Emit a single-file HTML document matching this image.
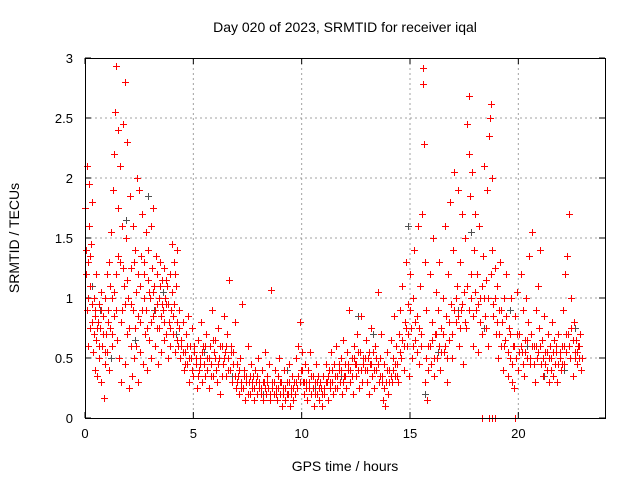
<!DOCTYPE html>
<html><head><meta charset="utf-8"><style>
body{margin:0;background:#fff;}
svg{display:block;font-family:"Liberation Sans",sans-serif;}
</style></head><body>
<svg id="chart" width="640" height="480">
<rect width="640" height="480" fill="#fff"/>
</svg>
<script>
const xTicks=[0,5,10,15,20];
const yTicks=[0,0.5,1,1.5,2,2.5,3];
const yTickLabels=["0","0.5","1","1.5","2","2.5","3"];
const redSeries=[[0.02,1.75],[0.05,1.4],[0.08,0.9],[0.1,2.1],[0.12,1.3],[0.15,0.6],[0.18,1.6],[0.2,1.95],[0.22,1.1],[0.25,0.75],[0.28,1.45],[0.3,1.8],[0.33,0.8],[0.36,0.55],[0.4,1.0],[0.42,0.7],[0.45,0.4],[0.48,0.9],[0.5,1.2],[0.53,0.65],[0.56,0.35],[0.6,0.8],[0.63,0.95],[0.66,0.5],[0.7,0.75],[0.73,1.05],[0.76,0.3],[0.8,0.6],[0.83,0.85],[0.86,0.17],[0.9,0.45],[0.93,1.0],[0.96,0.7],[1.0,1.2],[1.03,0.55],[1.06,0.9],[1.1,1.3],[1.13,0.4],[1.16,0.75],[1.2,1.55],[1.23,1.0],[1.26,0.6],[1.3,1.9],[1.33,0.85],[1.36,2.2],[1.4,2.55],[1.42,1.2],[1.45,2.93],[1.48,0.65],[1.5,2.4],[1.53,1.75],[1.56,0.5],[1.6,2.1],[1.63,1.3],[1.66,0.3],[1.7,1.6],[1.73,0.9],[1.76,2.45],[1.8,1.1],[1.83,0.45],[1.86,2.8],[1.9,1.5],[1.93,0.7],[1.96,2.3],[2.0,1.0],[2.03,0.25],[2.06,1.85],[2.1,0.6],[2.13,1.25],[2.16,0.35],[2.2,1.6],[2.23,0.9],[2.26,0.5],[2.3,1.4],[2.33,0.75],[2.36,1.05],[2.4,2.0],[2.43,0.3],[2.46,1.2],[2.5,1.9],[2.53,0.8],[2.56,0.55],[2.6,1.35],[2.63,1.7],[2.66,0.45],[2.7,1.0],[2.73,1.3],[2.76,0.7],[2.8,1.55],[2.83,0.9],[2.86,0.4],[2.9,1.15],[2.93,1.4],[2.96,0.65],[3.0,1.0],[3.03,1.6],[3.06,0.5],[3.1,1.25],[3.13,0.85],[3.16,1.75],[3.2,1.1],[3.23,0.6],[3.26,1.35],[3.3,0.95],[3.33,1.2],[3.36,0.45],[3.4,1.0],[3.43,0.75],[3.46,1.3],[3.5,0.85],[3.53,0.55],[3.56,1.15],[3.6,0.9],[3.63,0.65],[3.66,1.25],[3.7,1.0],[3.73,0.7],[3.76,0.95],[3.8,1.1],[3.83,0.5],[3.86,0.8],[3.9,1.2],[3.93,0.6],[3.96,0.9],[4.0,1.45],[4.03,1.05],[4.06,0.7],[4.1,1.3],[4.13,0.95],[4.16,0.55],[4.2,1.1],[4.23,0.8],[4.26,1.4],[4.3,0.6],[4.35,0.9],[4.4,0.5],[4.45,0.65],[4.5,0.8],[4.55,0.4],[4.6,0.55],[4.65,0.7],[4.7,0.45],[4.75,0.85],[4.8,0.3],[4.85,0.6],[4.9,0.5],[4.95,0.75],[5.0,0.35],[5.05,0.55],[5.1,0.45],[5.15,0.25],[5.2,0.65],[5.25,0.4],[5.3,0.5],[5.35,0.8],[5.4,0.3],[5.45,0.6],[5.5,0.45],[5.55,0.35],[5.6,0.7],[5.65,0.5],[5.7,0.25],[5.75,0.6],[5.8,0.45],[5.85,0.9],[5.9,0.35],[5.95,0.55],[6.0,0.65],[6.05,0.4],[6.1,0.3],[6.15,0.75],[6.2,0.5],[6.25,0.2],[6.3,0.6],[6.35,0.45],[6.4,0.85],[6.45,0.55],[6.5,0.35],[6.55,0.7],[6.6,0.5],[6.65,1.15],[6.7,0.4],[6.75,0.6],[6.8,0.3],[6.85,0.55],[6.9,0.8],[6.95,0.25],[7.0,0.45],[7.05,0.35],[7.1,0.2],[7.15,0.5],[7.2,0.3],[7.25,0.95],[7.3,0.25],[7.35,0.4],[7.4,0.15],[7.45,0.35],[7.5,0.6],[7.55,0.3],[7.6,0.2],[7.65,0.45],[7.7,0.25],[7.75,0.35],[7.8,0.15],[7.85,0.4],[7.9,0.3],[7.95,0.2],[8.0,0.5],[8.05,0.3],[8.1,0.25],[8.15,0.4],[8.2,0.15],[8.25,0.3],[8.3,0.55],[8.35,0.2],[8.4,0.35],[8.45,0.25],[8.5,0.45],[8.55,0.15],[8.6,1.07],[8.65,0.3],[8.7,0.2],[8.75,0.4],[8.8,0.25],[8.85,0.15],[8.9,0.35],[8.95,0.5],[9.0,0.2],[9.05,0.3],[9.1,0.1],[9.15,0.25],[9.2,0.4],[9.25,0.15],[9.3,0.3],[9.35,0.2],[9.4,0.45],[9.45,0.1],[9.5,0.25],[9.55,0.35],[9.6,0.15],[9.65,0.3],[9.7,0.2],[9.75,0.5],[9.8,0.25],[9.85,0.6],[9.9,0.8],[9.95,0.4],[10.0,0.55],[10.05,0.3],[10.1,0.2],[10.15,0.45],[10.2,0.3],[10.25,0.15],[10.3,0.4],[10.35,0.25],[10.4,0.55],[10.45,0.2],[10.5,0.35],[10.55,0.1],[10.6,0.3],[10.65,0.45],[10.7,0.2],[10.75,0.35],[10.8,0.15],[10.85,0.3],[10.9,0.25],[10.95,0.1],[11.0,0.35],[11.05,0.2],[11.1,0.45],[11.15,0.3],[11.2,0.15],[11.25,0.4],[11.3,0.25],[11.35,0.55],[11.4,0.3],[11.45,0.2],[11.5,0.45],[11.55,0.35],[11.6,0.6],[11.65,0.25],[11.7,0.4],[11.75,0.3],[11.8,0.5],[11.85,0.2],[11.9,0.65],[11.95,0.35],[12.0,0.45],[12.05,0.25],[12.1,0.55],[12.15,0.4],[12.2,0.9],[12.25,0.3],[12.3,0.5],[12.35,0.2],[12.4,0.6],[12.45,0.45],[12.5,0.35],[12.55,0.7],[12.6,0.4],[12.65,0.25],[12.7,0.55],[12.75,0.85],[12.8,0.3],[12.85,0.5],[12.9,0.4],[12.95,0.65],[13.0,0.3],[13.05,0.5],[13.1,0.2],[13.15,0.45],[13.2,0.75],[13.25,0.35],[13.3,0.55],[13.35,0.25],[13.4,0.6],[13.45,0.4],[13.5,1.05],[13.55,0.3],[13.6,0.5],[13.65,0.7],[13.7,0.35],[13.75,0.15],[13.8,0.45],[13.85,0.1],[13.9,0.3],[13.95,0.55],[14.0,0.2],[14.05,0.4],[14.1,0.65],[14.15,0.3],[14.2,0.5],[14.25,0.85],[14.3,0.35],[14.35,0.6],[14.4,0.45],[14.45,0.3],[14.5,0.7],[14.55,0.9],[14.6,0.5],[14.65,1.1],[14.7,0.4],[14.75,0.8],[14.8,1.3],[14.85,0.6],[14.9,0.95],[14.95,0.35],[15.0,1.2],[15.05,0.75],[15.1,0.5],[15.15,1.0],[15.2,1.4],[15.25,0.65],[15.3,0.85],[15.35,1.6],[15.4,0.45],[15.45,1.1],[15.5,0.7],[15.55,1.7],[15.6,2.92],[15.62,2.78],[15.65,2.28],[15.68,1.3],[15.7,0.3],[15.75,0.9],[15.8,0.15],[15.85,0.6],[15.9,1.2],[15.95,0.45],[16.0,0.8],[16.05,1.5],[16.1,0.35],[16.15,0.7],[16.2,1.05],[16.25,0.5],[16.3,0.9],[16.35,1.3],[16.4,0.4],[16.45,0.75],[16.5,1.0],[16.55,0.55],[16.6,1.6],[16.65,0.85],[16.7,0.3],[16.75,1.2],[16.8,0.65],[16.85,1.8],[16.9,0.95],[16.95,0.5],[17.0,1.4],[17.05,2.05],[17.1,0.8],[17.15,1.1],[17.2,1.9],[17.25,0.6],[17.3,1.3],[17.35,0.9],[17.4,1.7],[17.45,0.45],[17.5,1.05],[17.55,1.5],[17.6,0.75],[17.65,2.45],[17.7,2.68],[17.72,2.2],[17.75,1.85],[17.8,1.0],[17.85,2.05],[17.9,0.6],[17.95,1.4],[18.0,1.7],[18.05,0.9],[18.1,1.2],[18.15,0.55],[18.2,1.6],[18.25,1.0],[18.3,0.7],[18.35,1.35],[18.4,2.1],[18.45,0.85],[18.5,1.15],[18.55,1.9],[18.6,0.6],[18.65,2.35],[18.7,2.5],[18.75,2.62],[18.78,1.4],[18.8,2.0],[18.85,0.95],[18.9,1.25],[18.95,0.7],[19.0,1.1],[19.05,0.5],[19.1,0.9],[19.15,1.3],[19.2,0.6],[19.25,0.8],[19.3,0.4],[19.35,1.0],[19.4,0.65],[19.45,1.2],[19.5,0.35],[19.55,0.75],[19.6,0.5],[19.65,1.0],[19.7,0.3],[19.75,0.6],[19.8,0.25],[19.85,0.85],[19.9,0.5],[19.95,1.05],[20.0,0.4],[20.05,0.7],[20.1,1.2],[20.15,0.55],[20.2,0.9],[20.25,0.35],[20.3,0.65],[20.35,1.0],[20.4,0.5],[20.45,0.8],[20.5,1.35],[20.55,0.45],[20.6,0.7],[20.65,1.55],[20.7,0.6],[20.75,0.3],[20.8,0.9],[20.85,0.5],[20.9,1.1],[20.95,0.75],[21.0,1.4],[21.05,0.45],[21.1,0.65],[21.15,0.35],[21.2,0.85],[21.25,0.55],[21.3,0.4],[21.35,0.7],[21.4,0.3],[21.45,0.6],[21.5,0.5],[21.55,0.8],[21.6,0.35],[21.65,0.65],[21.7,0.45],[21.75,0.55],[21.8,0.3],[21.85,0.7],[21.9,0.5],[21.95,0.4],[22.0,0.6],[22.05,0.9],[22.1,0.45],[22.15,1.2],[22.2,0.55],[22.25,1.35],[22.3,0.7],[22.35,1.7],[22.4,0.5],[22.45,1.0],[22.5,0.35],[22.55,0.8],[22.6,0.55],[22.65,0.65],[22.7,0.45],[22.75,0.6],[22.8,0.5],[22.85,0.7],[22.9,0.4],[18.3,0],[18.65,0],[18.8,0],[18.9,0],[19.85,0]];
const redSeries2=[[0.04,1.2],[0.14,1.0],[0.24,1.35],[0.34,0.95],[0.44,0.85],[0.54,0.75],[0.64,0.6],[0.74,0.9],[0.84,0.7],[0.94,0.55],[1.04,0.8],[1.14,1.1],[1.24,0.7],[1.34,1.05],[1.44,0.9],[1.54,1.35],[1.64,0.8],[1.74,1.25],[1.84,0.95],[1.94,1.15],[2.04,0.75],[2.14,0.95],[2.24,1.3],[2.34,0.6],[2.44,0.85],[2.54,1.1],[2.64,0.9],[2.74,1.2],[2.84,0.75],[2.94,1.05],[3.04,0.8],[3.14,1.05],[3.24,0.9],[3.34,0.75],[3.44,1.1],[3.54,0.95],[3.64,0.8],[3.74,1.15],[3.84,0.95],[3.94,0.75],[4.04,0.85],[4.14,1.2],[4.24,0.65],[4.32,0.75],[4.42,0.6],[4.52,0.55],[4.62,0.45],[4.72,0.6],[4.82,0.5],[4.92,0.4],[5.02,0.6],[5.12,0.5],[5.22,0.35],[5.32,0.45],[5.42,0.55],[5.52,0.6],[5.62,0.4],[5.72,0.5],[5.82,0.35],[5.92,0.65],[6.02,0.5],[6.12,0.45],[6.22,0.6],[6.32,0.35],[6.42,0.5],[6.52,0.6],[6.62,0.4],[6.72,0.55],[6.82,0.45],[6.92,0.35],[7.02,0.3],[7.12,0.4],[7.22,0.25],[7.32,0.35],[7.42,0.3],[7.52,0.2],[7.62,0.35],[7.72,0.3],[7.82,0.25],[7.92,0.35],[8.02,0.25],[8.12,0.2],[8.22,0.3],[8.32,0.25],[8.42,0.3],[8.52,0.2],[8.62,0.25],[8.72,0.3],[8.82,0.2],[8.92,0.25],[9.02,0.3],[9.12,0.2],[9.22,0.25],[9.32,0.2],[9.42,0.3],[9.52,0.2],[9.62,0.25],[9.72,0.3],[9.82,0.35],[9.92,0.3],[10.02,0.4],[10.12,0.3],[10.22,0.25],[10.32,0.3],[10.42,0.35],[10.52,0.25],[10.62,0.2],[10.72,0.3],[10.82,0.25],[10.92,0.2],[11.02,0.25],[11.12,0.3],[11.22,0.35],[11.32,0.3],[11.42,0.4],[11.52,0.25],[11.62,0.35],[11.72,0.45],[11.82,0.4],[11.92,0.3],[12.02,0.35],[12.12,0.45],[12.22,0.4],[12.32,0.35],[12.42,0.5],[12.52,0.45],[12.62,0.55],[12.72,0.4],[12.82,0.45],[12.92,0.5],[13.02,0.4],[13.12,0.55],[13.22,0.45],[13.32,0.4],[13.42,0.5],[13.52,0.45],[13.62,0.35],[13.72,0.3],[13.82,0.25],[13.92,0.4],[14.02,0.3],[14.12,0.35],[14.22,0.4],[14.32,0.45],[14.42,0.35],[14.52,0.55],[14.62,0.65],[14.72,0.6],[14.82,0.75],[14.92,0.7],[15.02,0.9],[15.12,0.6],[15.22,0.8],[15.32,0.55],[15.42,0.75],[15.52,0.6],[15.72,0.5],[15.82,0.4],[15.92,0.6],[16.02,0.65],[16.12,0.5],[16.22,0.7],[16.32,0.6],[16.42,0.55],[16.52,0.7],[16.62,0.6],[16.72,0.5],[16.82,0.8],[16.92,0.7],[17.02,0.9],[17.12,1.0],[17.22,0.85],[17.32,0.75],[17.42,0.95],[17.52,0.8],[17.62,1.1],[17.72,0.9],[17.82,1.2],[17.92,0.85],[18.02,1.05],[18.12,0.95],[18.22,0.8],[18.32,1.1],[18.42,1.0],[18.52,0.75],[18.62,1.0],[18.72,1.2],[18.82,0.85],[18.92,1.0],[19.02,0.8],[19.12,0.7],[19.22,0.9],[19.32,0.6],[19.42,0.85],[19.52,0.55],[19.62,0.7],[19.72,0.45],[19.82,0.6],[19.92,0.7],[20.02,0.55],[20.12,0.6],[20.22,0.45],[20.32,0.55],[20.42,0.65],[20.52,0.5],[20.62,0.6],[20.72,0.45],[20.82,0.6],[20.92,0.55],[21.02,0.6],[21.12,0.5],[21.22,0.45],[21.32,0.55],[21.42,0.5],[21.52,0.4],[21.62,0.55],[21.72,0.6],[21.82,0.45],[21.92,0.55],[22.02,0.45],[22.12,0.6],[22.22,0.7],[22.32,0.6],[22.42,0.75],[22.52,0.65],[22.62,0.5],[22.72,0.55],[22.82,0.6],[22.92,0.5]];
const graySeries=[[0.3,1.1],[0.7,0.9],[1.2,0.5],[1.9,1.65],[2.3,0.65],[2.9,1.85],[3.2,0.9],[3.6,1.05],[4.2,0.7],[5.5,0.55],[6.8,0.35],[8.2,0.2],[9.3,0.4],[10.6,0.25],[11.8,0.35],[12.6,0.85],[13.3,0.7],[14.9,1.6],[15.7,0.2],[16.3,0.55],[17.2,0.9],[17.8,1.55],[18.4,0.75],[19.6,0.9],[20.4,0.6],[21.2,0.35],[22.1,0.4],[22.6,0.75]];

const NS="http://www.w3.org/2000/svg";
const svg=document.getElementById('chart');
const L=85,R=605,T=58,B=418,xMax=24,yMax=3;
const xs=v=>L+(R-L)*v/xMax;
const ys=v=>B-(B-T)*v/yMax;
function mk(tag,attrs,parent){const e=document.createElementNS(NS,tag);for(const k in attrs)e.setAttribute(k,attrs[k]);(parent||svg).appendChild(e);return e;}

const grid=mk('g',{});


xTicks.forEach((t,i)=>{
  if(t>0){const g=mk('line',{x1:xs(t),x2:xs(t),y1:T,y2:B,stroke:'#a0a0a0','stroke-dasharray':'2,3','stroke-width':1},grid);
  }
  mk('line',{x1:xs(t),x2:xs(t),y1:B,y2:B-6,stroke:'#000'});
  mk('line',{x1:xs(t),x2:xs(t),y1:T,y2:T+6,stroke:'#000'});
  const lb=mk('text',{x:xs(t),y:B+20,'text-anchor':'middle','font-size':13});
  lb.textContent=String(t);
  
  
});
yTicks.forEach((t,i)=>{
  if(t>0&&t<yMax){const g=mk('line',{x1:L,x2:R,y1:ys(t),y2:ys(t),stroke:'#a0a0a0','stroke-dasharray':'2,3','stroke-width':1},grid);
  }
  mk('line',{x1:L,x2:L+6,y1:ys(t),y2:ys(t),stroke:'#000'});
  mk('line',{x1:R,x2:R-6,y1:ys(t),y2:ys(t),stroke:'#000'});
  const lb=mk('text',{x:L-12,y:ys(t)+5,'text-anchor':'end','font-size':13});
  lb.textContent=yTickLabels[i];
  
  
});

function plot(series,color,name){
  const g=mk('g',{stroke:color,'stroke-width':1,fill:'none'});
  
  
  series.forEach(p=>{
    const x=Math.round(xs(p[0]))+0.5,y=Math.round(ys(p[1]))+0.5;
    const m=mk('path',{d:`M${x-3.5} ${y}H${x+3.5}M${x} ${y-3.5}V${y+3.5}`},g);
    
    
  });
}
plot(graySeries,'#505050','gray-series');
plot(redSeries,'#ff0000','red-series');
plot(redSeries2,'#ff0000','red-series-dense');

const frame=mk('rect',{x:L+0.5,y:T+0.5,width:R-L,height:B-T,fill:'none',stroke:'#000'});



const title=mk('text',{x:345,y:32,'text-anchor':'middle','font-size':14});
title.textContent='Day 020 of 2023, SRMTID for receiver iqal';


const xl=mk('text',{x:345,y:471,'text-anchor':'middle','font-size':14});
xl.textContent='GPS time / hours';


const yl=mk('text',{x:0,y:0,'text-anchor':'middle','font-size':14,transform:'translate(19,238) rotate(-90)'});
yl.textContent='SRMTID / TECUs';


</script>
</body></html>
